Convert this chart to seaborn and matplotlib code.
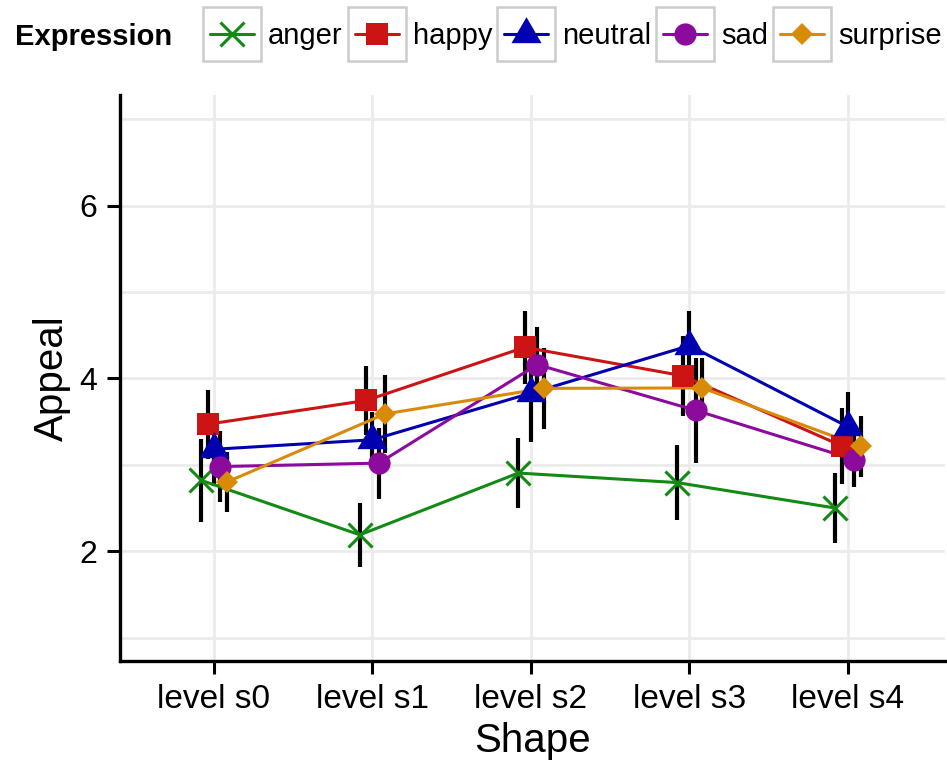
import numpy as np
import pandas as pd
import matplotlib
matplotlib.use("Agg")
import matplotlib.pyplot as plt
import seaborn as sns
from matplotlib.lines import Line2D
from matplotlib.patches import Rectangle

# ---------------- data ----------------
shapes = ["level s0", "level s1", "level s2", "level s3", "level s4"]
expressions = ["anger", "happy", "neutral", "sad", "surprise"]

anger_mean = [2.82, 2.19, 2.905, 2.795, 2.50]
anger_err = [0.48, 0.37, 0.41, 0.43, 0.40]
happy_mean = [3.47, 3.745, 4.36, 4.03, 3.22]
happy_err = [0.40, 0.40, 0.42, 0.46, 0.44]
neutral_mean = [3.18, 3.29, 3.83, 4.38, 3.44]
neutral_err = [0.42, 0.32, 0.56, 0.40, 0.40]
sad_mean = [2.98, 3.02, 4.16, 3.63, 3.06]
sad_err = [0.41, 0.41, 0.43, 0.61, 0.32]
surprise_mean = [2.80, 3.59, 3.885, 3.89, 3.215]
surprise_err = [0.35, 0.45, 0.47, 0.35, 0.35]

y_ticks = [2, 4, 6]
y_minor = [1, 3, 5, 7]

means = [anger_mean, happy_mean, neutral_mean, sad_mean, surprise_mean]
errs = [anger_err, happy_err, neutral_err, sad_err, surprise_err]

# ---------------- styles ----------------
colors = {"anger": "#138a13", "happy": "#cc1414", "neutral": "#0000b0",
          "sad": "#8c0a9c", "surprise": "#d98a08"}
tri = [(0, 1), (-0.866, -0.5), (0.866, -0.5)]
markers = {"anger": "x", "happy": "s", "neutral": tri, "sad": "o", "surprise": "D"}
msizes = {"anger": 17, "happy": 16, "neutral": 25, "sad": 16, "surprise": 11}
dodge_step = 0.04

rows = []
for k, (e, m, er) in enumerate(zip(expressions, means, errs)):
    for i, s in enumerate(shapes):
        rows.append({"Shape": s, "Expression": e, "Appeal": m[i], "err": er[i],
                     "x": i + (k - 2) * dodge_step})
df = pd.DataFrame(rows)

sns.set_theme(style="white")
plt.rcParams["font.family"] = ["Liberation Sans", "DejaVu Sans"]
plt.rcParams["text.color"] = "black"

W, H = 947, 762
fig = plt.figure(figsize=(W / 100, H / 100), dpi=100)
ax = fig.add_axes([120 / W, 1 - 661 / H, (945 - 120) / W, (661 - 95) / H])

# error bars
ax.vlines(df["x"], df["Appeal"] - df["err"], df["Appeal"] + df["err"],
          color="black", lw=3.0, zorder=2)
# lines
sns.lineplot(data=df, x="x", y="Appeal", hue="Expression", palette=colors,
             hue_order=expressions, estimator=None, lw=2.2, legend=False,
             ax=ax, zorder=3)
# points
for e in expressions:
    sub = df[df["Expression"] == e]
    if markers[e] == "x":
        ax.plot(sub["x"], sub["Appeal"], ls="none", marker="x", ms=msizes[e],
                mew=2.2, color=colors[e], zorder=4)
    else:
        ax.plot(sub["x"], sub["Appeal"], ls="none", marker=markers[e],
                ms=msizes[e], mew=0, color=colors[e], zorder=4)

# axes styling
ax.set_xlim(-0.593, 4.612)
ax.set_ylim(0.73, 7.28)
ax.set_xticks(range(len(shapes)))
ax.set_xticklabels(shapes)
ax.set_yticks(y_ticks)
ax.set_yticks(y_minor, minor=True)
ax.set_axisbelow(True)
ax.grid(True, which="major", axis="both", color="#ebebeb", lw=2)
ax.grid(True, which="minor", axis="y", color="#ebebeb", lw=2)
for sp in ["top", "right"]:
    ax.spines[sp].set_visible(False)
for sp in ["left", "bottom"]:
    ax.spines[sp].set_color("black")
    ax.spines[sp].set_linewidth(2.4)
ax.tick_params(which="major", direction="out", length=9.5, width=2.2,
               color="black", left=True, bottom=True, pad=7)
ax.tick_params(axis="x", labelsize=24, labelcolor="black")
ax.tick_params(axis="y", labelsize=23, labelcolor="black")
ax.tick_params(which="minor", length=0)
ax.set_xlabel("Shape", fontsize=29, color="black", labelpad=5)
ax.set_ylabel("Appeal", fontsize=29, color="black", labelpad=6)

# legend
handles = []
for e in expressions:
    if markers[e] == "x":
        h = Line2D([], [], color=colors[e], lw=2.2, marker="x", ms=msizes[e], mew=2.2)
    else:
        h = Line2D([], [], color=colors[e], lw=2.2, marker=markers[e],
                   ms=msizes[e], mew=0)
    handles.append(h)
fig.text(15 / W, 1 - 37 / H, "Expression", fontsize=21, fontweight="bold",
         ha="left", va="center", color="black")
leg = fig.legend(handles, expressions, loc="center left",
                 bbox_to_anchor=(210 / W, 1 - 36 / H), ncol=5, frameon=False,
                 fontsize=21, handlelength=1.51, handletextpad=0.48,
                 columnspacing=0.41, borderpad=0, borderaxespad=0,
                 labelcolor="black")
fig.canvas.draw()
for ln in leg.get_lines():
    pts = ln.get_transform().transform(ln.get_xydata())
    x0, x1 = pts[:, 0].min() - 7, pts[:, 0].max() + 7
    yc = pts[:, 1].mean()
    hh = 54
    fig.patches.append(Rectangle((x0 / W, (yc - hh / 2) / H), (x1 - x0) / W, hh / H,
                                 transform=fig.transFigure, fill=False,
                                 edgecolor="#cccccc", lw=1.8, zorder=-1))

fig.savefig("out.png", dpi=100)
